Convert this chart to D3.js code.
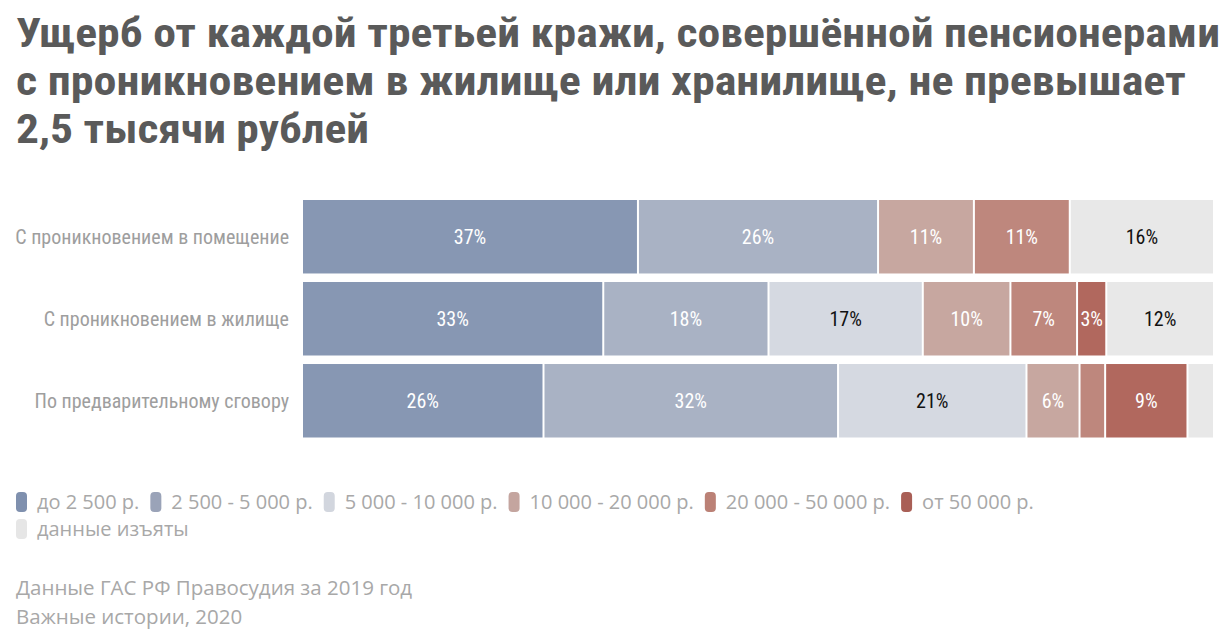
<!DOCTYPE html>
<html><head><meta charset="utf-8">
<script src="https://cdn.jsdelivr.net/npm/d3@7"></script>
<style>
body{margin:0;background:#fff;}
svg{display:block;}
</style></head>
<body>
<svg id="chart" width="1225" height="643"></svg>
<script>
const titleLines = [
  "Ущерб от каждой третьей кражи, совершённой пенсионерами",
  "с проникновением в жилище или хранилище, не превышает",
  "2,5 тысячи рублей"
];
const categories = [
  "С проникновением в помещение",
  "С проникновением в жилище",
  "По предварительному сговору"
];
const seriesNames = [
  "до 2 500 р.", "2 500 - 5 000 р.", "5 000 - 10 000 р.",
  "10 000 - 20 000 р.", "20 000 - 50 000 р.", "от 50 000 р.", "данные изъяты"
];
const seriesColors = ["#8797b3", "#a9b2c4", "#d5d9e1", "#c7a7a0", "#be877d", "#b1685e", "#e8e8e8"];
const legendColors = ["#7f90ae", "#9aa3b8", "#d2d6de", "#c4a59f", "#bb8176", "#a95f56", "#e6e6e6"];
const labelDark = [false, false, true, false, false, false, true];
// values per category, in series order (percent)
const v_pom = [36.8, 26.3, 0, 10.5, 10.5, 0, 15.8];
const v_zhil = [33.0, 18.1, 16.9, 9.6, 7.3, 3.2, 11.8];
const v_sgov = [26.4, 32.2, 20.6, 5.8, 2.8, 9.0, 2.9];
const values = [v_pom, v_zhil, v_sgov];
const sources = ["Данные ГАС РФ Правосудия за 2019 год", "Важные истории, 2020"];

const svg = d3.select("#chart");
const narrow = "'Liberation Sans Narrow', 'Roboto Condensed', 'Open Sans', sans-serif";
const regular = "'Open Sans', 'Noto Sans', sans-serif";

// title
const titleW = [1204, 1170, 353];
svg.append("g").selectAll("text").data(titleLines).join("text")
  .attr("x", 16).attr("y", (d, i) => 47 + i * 48)
  .attr("font-family", narrow).attr("font-weight", "bold").attr("font-size", 40)
  .attr("fill", "#5a5a5a")
  .attr("textLength", (d, i) => titleW[i]).attr("lengthAdjust", "spacingAndGlyphs")
  .text(d => d);

// data table
const table = categories.map((c, i) => {
  const o = {cat: c};
  seriesNames.forEach((s, j) => o[s] = values[i][j]);
  return o;
});
const stack = d3.stack().keys(seriesNames).offset(d3.stackOffsetExpand);
const stacked = stack(table);

const x = d3.scaleLinear().domain([0, 1]).range([303, 1215]);
const y = d3.scaleBand().domain(categories).range([200, 437.5]).paddingInner(0.104);

const g = svg.append("g");
stacked.forEach((layer, si) => {
  const lg = g.append("g");
  layer.forEach((d, ci) => {
    const val = values[ci][si];
    if (val <= 0) return;
    const x0 = x(d[0]), x1 = x(d[1]);
    lg.append("rect")
      .attr("x", x0).attr("y", y(categories[ci]))
      .attr("width", Math.max(0, x1 - x0 - 2)).attr("height", y.bandwidth())
      .attr("fill", seriesColors[si]);
    if (val >= 3) {
      lg.append("text")
        .attr("x", (x0 + x1 - 2) / 2).attr("y", y(categories[ci]) + y.bandwidth() / 2)
        .attr("dy", "0.35em").attr("text-anchor", "middle")
        .attr("font-family", narrow).attr("font-size", 20)
        .attr("fill", labelDark[si] ? "#111" : "#fff")
        .text(Math.round(val) + "%");
    }
  });
});

// category labels
svg.append("g").selectAll("text").data(categories).join("text")
  .attr("x", 289).attr("y", d => y(d) + y.bandwidth() / 2)
  .attr("dy", "0.35em").attr("text-anchor", "end")
  .attr("font-family", narrow).attr("font-size", 20).attr("fill", "#9e9e9e")
  .text(d => d);

// legend
const leg = svg.append("g");
let lx = 16, ly = 502;
seriesNames.forEach((s, i) => {
  const it = leg.append("g");
  const t = it.append("text").attr("font-family", regular).attr("font-size", 20)
    .attr("fill", "#a8a8a8").attr("dy", "0.35em").text(s);
  const tw = t.node().getComputedTextLength();
  const w = 11 + 10 + tw;
  if (lx + w > 1215) { lx = 16; ly += 27; }
  it.append("rect").attr("x", lx).attr("y", ly - 10).attr("width", 11).attr("height", 20)
    .attr("rx", 4).attr("fill", legendColors[i]);
  t.attr("x", lx + 21).attr("y", ly);
  lx += w + 11;
});

// sources
svg.append("g").selectAll("text").data(sources).join("text")
  .attr("x", 16).attr("y", (d, i) => 595 + i * 29)
  .attr("font-family", regular).attr("font-size", 20.5).attr("fill", "#a8a8a8")
  .text(d => d);
</script>
</body></html>
